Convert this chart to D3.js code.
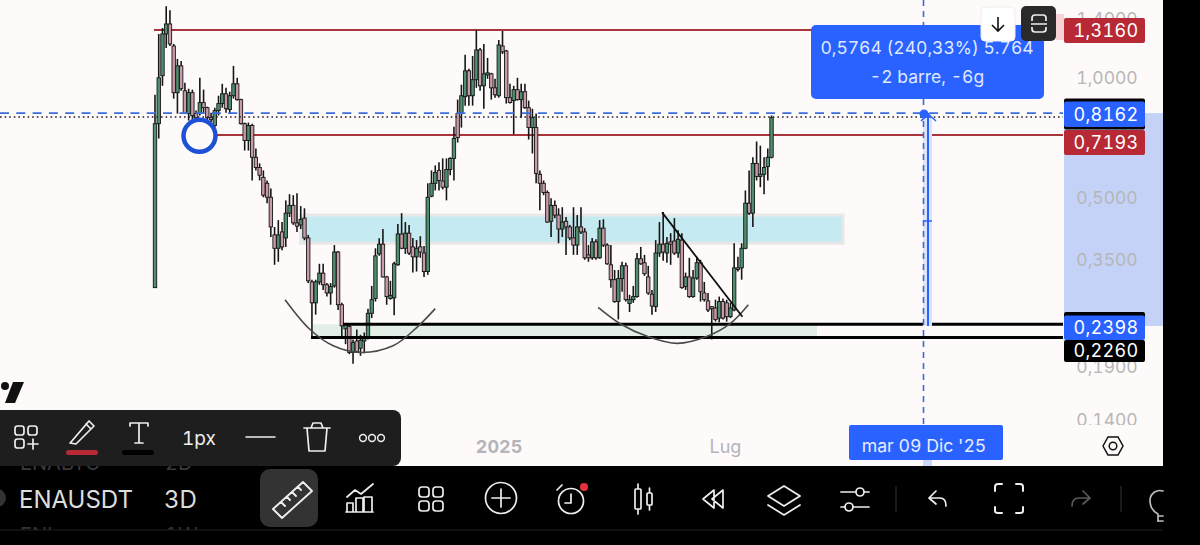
<!DOCTYPE html>
<html><head><meta charset="utf-8">
<style>html,body{margin:0;padding:0;background:#000;overflow:hidden}svg{display:block}text{font-family:Inter,"Noto Sans",sans-serif;font-variant-numeric:tabular-nums}</style>
<script src="https://cdnjs.cloudflare.com/ajax/libs/d3/7.9.0/d3.min.js"></script>
</head><body><svg id="c" width="1200" height="545"></svg>
<script>
const opens=[.299,.768,1.012,1.287,1.363,1.201,.918,1.071,.928,.814,.918,.814,.814,.867,.842,.795,.760,.828,.862,.912,.833,.902,.966,.882,.768,.697,.760,.633,.597,.564,
.545,.503,.405,.375,.412,.398,.459,.480,.434,.429,.446,.398,.309,.274,.309,.325,.304,.290,.302,.367,.271,.236,.239,.206,.220,.211,.220,.225,.258,.281,
.363,.384,.318,.281,.282,.341,.407,.375,.409,.378,.357,.378,.365,.328,.506,.545,.587,.552,.533,.590,.629,.814,.814,.897,1.041,.902,.989,1.174,.955,1.017,
1.023,.944,.902,1.201,1.167,.892,.877,.934,.882,.923,.842,.751,.751,.574,.545,.517,.438,.480,.454,.419,.438,.424,.398,.382,.424,.412,.361,.355,.389,.355,
.421,.382,.341,.313,.276,.315,.339,.273,.279,.284,.353,.345,.318,.288,.268,.365,.384,.365,.389,.391,.365,.393,.301,.318,.284,.316,.345,.290,.277,.268,
.266,.251,.276,.274,.253,.263,.335,.335,.375,.486,.459,.611,.567,.574,.600,.633];
const highs=[.907,1.287,1.332,1.510,1.476,1.215,1.115,1.102,.972,.939,.934,.828,1.000,.934,.847,.818,.842,.902,.966,.944,.923,1.071,1.000,.887,.773,.773,.768,.666,.611,.587,
.554,.529,.424,.441,.436,.494,.512,.509,.515,.478,.472,.405,.313,.313,.343,.343,.307,.307,.382,.369,.274,.244,.242,.222,.235,.228,.231,.265,.302,.375,
.397,.419,.320,.311,.347,.431,.459,.436,.429,.398,.393,.402,.380,.545,.587,.604,.615,.629,.629,.633,.755,.882,.961,1.141,1.053,1.134,1.316,1.187,1.215,1.121,
1.029,.994,1.243,1.309,1.174,.966,.955,1.000,.966,.966,.877,.837,.814,.587,.554,.523,.500,.494,.472,.475,.449,.429,.475,.454,.475,.421,.382,.398,.395,.441,
.443,.386,.382,.331,.331,.347,.345,.287,.302,.365,.378,.361,.339,.295,.393,.436,.462,.400,.409,.446,.416,.409,.326,.355,.331,.357,.351,.309,.290,.269,
.279,.284,.281,.279,.274,.386,.357,.386,.523,.587,.633,.693,.677,.633,.666,.805];
const lows=[.299,.705,.955,1.187,1.201,.887,.814,.928,.814,.782,.782,.791,.805,.814,.782,.773,.751,.805,.842,.818,.814,.887,.877,.764,.658,.658,.554,.587,.554,.503,
.486,.400,.341,.347,.371,.378,.449,.429,.412,.419,.393,.307,.225,.256,.304,.295,.284,.271,.299,.263,.226,.216,.204,.193,.206,.202,.205,.222,.251,.276,
.359,.317,.271,.279,.255,.339,.373,.363,.361,.326,.328,.355,.318,.322,.503,.523,.523,.526,.494,.571,.554,.689,.751,.852,.852,.852,.944,.928,.837,.994,
.882,.892,.892,1.147,.862,.862,.722,.877,.795,.837,.701,.647,.545,.467,.509,.434,.400,.446,.386,.400,.361,.393,.361,.361,.407,.351,.347,.351,.351,.353,
.378,.341,.299,.274,.249,.292,.276,.260,.274,.282,.341,.320,.287,.256,.260,.357,.349,.345,.341,.361,.355,.297,.295,.282,.282,.313,.276,.276,.260,.222,
.246,.245,.249,.246,.251,.261,.328,.313,.373,.454,.424,.554,.533,.512,.554,.629];
const closes=[.768,1.000,1.287,1.363,1.215,.918,1.071,.939,.814,.918,.805,.795,.867,.842,.795,.786,.828,.862,.912,.837,.902,.966,.882,.768,.697,.760,.633,.597,.571,.509,
.503,.424,.375,.405,.378,.459,.480,.434,.426,.443,.398,.311,.274,.309,.325,.304,.290,.301,.367,.271,.240,.242,.206,.218,.207,.221,.225,.258,.279,.359,
.384,.318,.284,.286,.343,.407,.375,.409,.365,.357,.375,.367,.328,.503,.545,.580,.554,.533,.590,.629,.705,.709,.902,1.041,.902,.989,1.174,.955,1.023,1.029,
.944,.907,1.208,1.161,.892,.867,.934,.882,.923,.842,.751,.795,.577,.545,.517,.436,.480,.454,.419,.436,.424,.398,.382,.424,.412,.355,.355,.389,.355,.421,
.382,.343,.313,.276,.315,.339,.279,.279,.284,.353,.343,.324,.290,.269,.365,.384,.367,.386,.384,.365,.395,.299,.318,.284,.316,.345,.292,.279,.263,.265,
.249,.276,.251,.253,.266,.335,.332,.375,.486,.459,.611,.567,.574,.597,.633,.795];

const yTickValues=[1.4,1,.5,.35,.19,.14];
const priceTags=[[1.316,"1,3160","#b72a35"],[.8162,"0,8162","#2962ff"],[.7193,"0,7193","#b72a35"],[.2398,"0,2398","#2962ff"],[.226,"0,2260","#000"]];
const timeTicks=[[new Date(Date.UTC(2025,0,1)),"2025"],[new Date(Date.UTC(2025,6,1)),"Lug"]];
const firstBar=Date.UTC(2024,3,1), stepMs=3*864e5, crossDate=new Date(Date.UTC(2025,11,9));
const arcLeft=[[34.8,.279],[41.5,.235],[47.7,.214],[54.9,.206],[63.7,.214],[70.1,.238],[75,.265]];
const arcRight=[[118.6,.267],[124.5,.243],[131.7,.226],[139.8,.217],[147.8,.226],[153.9,.243],[158.8,.271]];
const trend=[[135.7,.461],[157.2,.253]];
const blueZone=[.454,.386], greenZone=[.2422,.2245], blackTop=.2422, blackBottom=.2245;
const measureTop=.8162, measureBottom=.2398, dottedPrice=.798;

const BG="#fefafa",BLUE="#2962ff";
const svg=d3.select("#c");
const dateOf=i=>new Date(firstBar+i*stepMs);
const x=d3.scaleUtc().domain([dateOf(0),crossDate]).range([155,923.5]);
const y=d3.scaleLog().domain([1,.2398]).range([77.8,326]);
const X=i=>x(dateOf(i));

svg.append("rect").attr("width",1163).attr("height",466).attr("fill",BG);

// measure shading in price scale
svg.append("rect").attr("x",1064).attr("width",99).attr("y",y(measureTop)).attr("height",y(measureBottom)-y(measureTop)).attr("fill","#c4d2f8");

// zones
svg.append("rect").attr("x",X(39)).attr("width",843-X(39)).attr("y",y(blueZone[0])).attr("height",y(blueZone[1])-y(blueZone[0]))
 .attr("fill","#c6eaf1").attr("stroke","#e9e7e7").attr("stroke-width",3);
svg.append("rect").attr("x",313).attr("width",504).attr("y",y(greenZone[0])).attr("height",y(greenZone[1])-y(greenZone[0])).attr("fill","#e3efe6");

// red lines
const hl=(p,x0,x1,col,w,dash)=>svg.append("line").attr("x1",x0).attr("x2",x1).attr("y1",y(p)).attr("y2",y(p)).attr("stroke",col).attr("stroke-width",w).attr("stroke-dasharray",dash||null);
hl(1.316,154,1063,"#a8343c",2);
hl(.7193,215,1063,"#a8343c",2);

// candles
const bars=d3.range(opens.length);
const g=svg.append("g");
g.selectAll("line").data(bars).join("line")
 .attr("x1",i=>X(i)).attr("x2",i=>X(i)).attr("y1",i=>y(highs[i])).attr("y2",i=>y(lows[i]))
 .attr("stroke","#161616").attr("stroke-width",1.6);
g.selectAll("rect").data(bars).join("rect")
 .attr("x",i=>X(i)-1.7).attr("width",3.4)
 .attr("y",i=>y(Math.max(opens[i],closes[i])))
 .attr("height",i=>Math.max(1,Math.abs(y(opens[i])-y(closes[i]))))
 .attr("fill",i=>closes[i]>=opens[i]?"#4f8f6e":"#c99aa8")
 .attr("stroke","#161616").attr("stroke-width",.9);

// black lines
hl(blackTop,343,1063,"#000",3);
hl(blackBottom,311,1063,"#000",3);

// arcs + trend
const curve=d3.line().x(d=>X(d[0])).y(d=>y(d[1])).curve(d3.curveCatmullRom);
[arcLeft,arcRight].forEach(a=>svg.append("path").attr("d",curve(a)).attr("fill","none").attr("stroke","#4a4a4a").attr("stroke-width",1.6));
svg.append("path").attr("d",d3.line().x(d=>X(d[0])).y(d=>y(d[1]))(trend)).attr("fill","none").attr("stroke","#111").attr("stroke-width",1.8);

// measure
svg.append("rect").attr("x",923).attr("width",9).attr("y",y(measureTop)).attr("height",y(measureBottom)-y(measureTop)).attr("fill","#dbe4fb");
hl(measureTop,0,1063,"#3a6cdc",1.6,"9 7.3");
hl(dottedPrice,0,1063,"#222",1.6,"1.6 3");
svg.append("line").attr("x1",x(crossDate)).attr("x2",x(crossDate)).attr("y1",0).attr("y2",425).attr("stroke","#3a6cdc").attr("stroke-width",1.6).attr("stroke-dasharray","6 5");
svg.append("line").attr("x1",928).attr("x2",928).attr("y1",y(measureTop)).attr("y2",y(measureBottom)).attr("stroke",BLUE).attr("stroke-width",2);
svg.append("path").attr("d","M921 121L928 114L936 121M924 221H932").attr("fill","none").attr("stroke",BLUE).attr("stroke-width",1.6);
svg.append("circle").attr("cx",924).attr("cy",114).attr("r",4.5).attr("fill",BLUE);

// highlighted circle
svg.append("circle").attr("cx",199.5).attr("cy",135.8).attr("r",16).attr("fill",BG).attr("stroke","#1d50d6").attr("stroke-width",4.5);

// y axis
const yAxis=d3.axisRight(y).tickValues(yTickValues).tickSize(0).tickPadding(0).tickFormat(d=>d3.format(".4f")(d).replace(".",","));
const ya=svg.append("g").attr("transform","translate(1107,0)").call(yAxis);
ya.select(".domain").remove();
ya.selectAll("text").attr("text-anchor","middle").attr("fill","#b6b6b6").style("font-size","17.5px").style("font-family","Inter");
svg.append("rect").attr("x",1064).attr("y",425).attr("width",99).attr("height",41).attr("fill",BG);

// tooltip and buttons
svg.append("rect").attr("x",811).attr("y",25).attr("width",233).attr("height",74).attr("rx",5).attr("fill",BLUE);
svg.append("text").attr("x",927).attr("y",54).attr("text-anchor","middle").attr("fill","#dfe8ff").style("font-size","17.5px").text("0,5764 (240,33%) 5.764");
svg.append("text").attr("x",927).attr("y",83).attr("text-anchor","middle").attr("fill","#dfe8ff").style("font-size","17.5px").text("-2 barre, -6g");
svg.append("rect").attr("x",1056).attr("y",14).attr("width",8).attr("height",26).attr("fill","#f8d3d5");
svg.append("rect").attr("x",981).attr("y",7).attr("width",34).attr("height",34).attr("rx",4).attr("fill","#fff").attr("stroke","#eee");
svg.append("path").attr("d","M998 17V31M992 25L998 31L1004 25").attr("fill","none").attr("stroke","#111").attr("stroke-width",1.6);
svg.append("rect").attr("x",1021).attr("y",6).attr("width",35).attr("height",35).attr("rx",5).attr("fill","#2a2a2a");
svg.append("path").attr("d","M1032 21V18a3 3 0 0 1 3-3H1043a3 3 0 0 1 3 3V21M1032 27V29a3 3 0 0 0 3 3H1043a3 3 0 0 0 3-3V27M1031 24H1047").attr("fill","none").attr("stroke","#eee").attr("stroke-width",1.7);

// price tags
svg.append("rect").attr("x",1064).attr("y",98.5).attr("width",81).attr("height",31).attr("rx",2).attr("fill","#000");
svg.append("rect").attr("x",1064).attr("y",312).attr("width",81).attr("height",8).attr("rx",2).attr("fill","#000");
const tagTop={"1,3160":18,"0,8162":101.5,"0,7193":130,"0,2398":315.5,"0,2260":340};
const tagH={"1,3160":25,"0,8162":25.5,"0,7193":25,"0,2398":24.5,"0,2260":22};
const tags=svg.append("g").selectAll("g").data(priceTags).join("g");
tags.append("rect").attr("x",1064).attr("width",81).attr("y",d=>tagTop[d[1]]).attr("height",d=>tagH[d[1]]).attr("rx",2).attr("fill",d=>d[2]);
tags.append("text").attr("x",1106).attr("y",d=>tagTop[d[1]]+tagH[d[1]]/2+6.4).attr("text-anchor","middle").attr("fill","#fff").style("font-size","18px").style("letter-spacing","0.3px").text(d=>d[1]);

// x axis
const xAxis=d3.axisBottom(x).tickValues(timeTicks.map(d=>d[0])).tickSize(0).tickPadding(0).tickFormat((d,i)=>timeTicks[i][1]);
const xa=svg.append("g").attr("transform","translate(0,440)").call(xAxis);
xa.select(".domain").remove();
xa.selectAll("text").attr("fill","#b4b4ba").style("font-size","18px").style("font-family","Inter").attr("font-weight",(d,i)=>i==0?700:400).attr("dx",(d,i)=>i==1?2:1);

// date box
svg.append("rect").attr("x",923).attr("y",460).attr("width",9).attr("height",6).attr("fill","#cdd9fb");
svg.append("rect").attr("x",849).attr("y",425).attr("width",154).attr("height",35).attr("rx",2).attr("fill",BLUE);
svg.append("text").attr("x",924).attr("y",452).attr("text-anchor","middle").attr("fill","#e6edff").style("font-size","17.7px").text("mar 09 Dic '25");
svg.append("path").attr("d","M1103 446L1108 437H1118L1123 446L1118 455H1108Z").attr("fill","none").attr("stroke","#111").attr("stroke-width",1.5);
svg.append("circle").attr("cx",1113).attr("cy",446).attr("r",3.8).attr("fill","none").attr("stroke","#111").attr("stroke-width",1.5);

// TV logo
svg.append("circle").attr("cx",5).attr("cy",386).attr("r",4).attr("fill","#111");
svg.append("path").attr("d","M13 382H24L15 403H5Z").attr("fill","#111");

// bottom bar
svg.append("rect").attr("y",466).attr("width",1200).attr("height",79).attr("fill","#000");
svg.append("rect").attr("x",1163).attr("width",37).attr("height",545).attr("fill","#000");
svg.append("text").attr("x",20).attr("y",470).attr("fill","#3a3a3a").style("font-size","20px").text("ENABTC");
svg.append("text").attr("x",165).attr("y",470).attr("fill","#3a3a3a").style("font-size","20px").text("2D");
svg.append("text").attr("x",20).attr("y",541.5).attr("fill","#333").style("font-size","20px").text("ENI");
svg.append("text").attr("x",165).attr("y",541.5).attr("fill","#333").style("font-size","20px").text("1W");
svg.append("rect").attr("y",530).attr("width",1200).attr("height",15).attr("fill","#000");
svg.append("line").attr("x1",0).attr("x2",1163).attr("y1",530).attr("y2",530).attr("stroke","#1e1e1e");
svg.append("text").attr("x",19).attr("y",508).attr("fill","#ddd").style("font-size","24px").text("ENAUSDT");
svg.append("text").attr("x",164).attr("y",508).attr("fill","#ddd").style("font-size","24px").text("3D");
svg.append("circle").attr("cx",-3).attr("cy",498).attr("r",9).attr("fill","#333");

// tool panel
svg.append("rect").attr("x",-10).attr("y",410).attr("width",411).attr("height",56).attr("rx",8).attr("fill","#1e1e1e");
svg.append("rect").attr("x",66).attr("y",450).attr("width",32).attr("height",5).attr("rx",2.5).attr("fill","#b72a35");
svg.append("rect").attr("x",122).attr("y",450).attr("width",32).attr("height",5).attr("rx",2.5).attr("fill","#000");
svg.append("text").attr("x",199).attr("y",445).attr("text-anchor","middle").attr("fill","#eee").style("font-size","19px").text("1px");

const icon=(d,col,w)=>svg.append("path").attr("d",d).attr("fill","none").attr("stroke",col||"#eee").attr("stroke-width",w||1.7).attr("stroke-linejoin","round").attr("stroke-linecap","round");
const rr=(x,y,w,h,r)=>`M${x+r} ${y}H${x+w-r}a${r} ${r} 0 0 1 ${r} ${r}V${y+h-r}a${r} ${r} 0 0 1 ${-r} ${r}H${x+r}a${r} ${r} 0 0 1 ${-r} ${-r}V${y+r}a${r} ${r} 0 0 1 ${r} ${-r}Z`;
const ring=(cx,cy,r,col,w)=>svg.append("circle").attr("cx",cx).attr("cy",cy).attr("r",r).attr("fill","none").attr("stroke",col||"#eee").attr("stroke-width",w||1.7);
icon(rr(15,426,9,9,2.5)+rr(28,426,9,9,2.5)+rr(15,439,9,9,2.5)+"M28 444H38M33 439V449");
icon("M71 442L89 421L94 426L76 444L70 443Z M86 424L91 429");
icon("M130 426V423H148V426M139 423V443M135 443H143");
icon("M246 437H275",null,1.5);
icon("M304 428H330M311 428L313 423H321L323 428M307 428L309 451H325L327 428");
[363,372,381].forEach(c=>ring(c,438,3.4,"#eee",1.5));

// bottom toolbar icons
svg.append("rect").attr("x",260).attr("y",469).attr("width",58).attr("height",58).attr("rx",10).attr("fill","#333");
icon("M273 509L303 482L312 491L282 518Z M281 502L285 506 M287 497L290 500 M292 492L296 496 M298 487L301 490",null,1.9);
icon("M347 497L355 490L361 494L373 484M347 512V503H353V512Z M356 512V498H363V512Z M364 512V497H372V512Z M346 512H373");
icon(rr(419,487,10,10,3)+rr(433,487,10,10,3)+rr(419,501,10,10,3)+rr(433,501,10,10,3));
ring(501,498,15.5);
icon("M492 498H510M501 489V507");
ring(571,501,12.5);
icon("M571 494V503H565M557 490L562 485");
svg.append("circle").attr("cx",584).attr("cy",487).attr("r",4).attr("fill","#e8323f");
icon(rr(635,489,6,20,1)+"M638 484V489M638 509V514"+rr(647,493,5,12,1)+"M649.5 488V493M649.5 505V510");
icon("M714 490L703 499L714 508ZM723 490L712 499L723 508Z");
icon("M784 486L800 496L784 506L768 496ZM768 505L784 515L800 505");
icon("M841 492H869M841 507H869");
svg.append("circle").attr("cx",860).attr("cy",492).attr("r",4).attr("fill","#000").attr("stroke","#eee").attr("stroke-width",1.7);
svg.append("circle").attr("cx",849).attr("cy",507).attr("r",4).attr("fill","#000").attr("stroke","#eee").attr("stroke-width",1.7);
[896,1121].forEach(c=>svg.append("line").attr("x1",c).attr("x2",c).attr("y1",486).attr("y2",512).attr("stroke","#333"));
icon("M936 491L929 498L936 504M929 498H940Q946 498 946 506");
icon("M1002 484H998Q995 484 995 487V491M1016 484H1020Q1023 484 1023 487V491M995 507V511Q995 513 998 513H1002M1023 507V511Q1023 513 1020 513H1016",null,2);
icon("M1083 491L1090 498L1083 504M1090 498H1079Q1072 498 1072 506","#5a5a5a");
icon("M1158 521V514Q1150 510 1150 500A10 10 0 0 1 1163 491","#bbb");
icon("M1158 516H1163M1158 521H1163","#bbb");
</script>
</body></html>
